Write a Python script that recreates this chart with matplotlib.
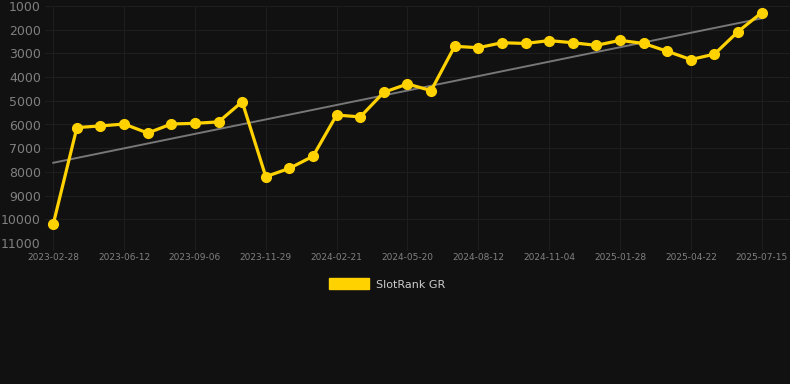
import matplotlib
matplotlib.use('Agg')
import matplotlib.pyplot as plt
import matplotlib.patches as mpatches
import numpy as np

# rank values, one point every ~4 weeks
ranks = [10200, 6130, 6060, 5980, 6360, 5980, 5950, 5890, 5040, 8200,
         7850, 7340, 5600, 5680, 4640, 4290, 4570, 2700, 2760, 2550,
         2580, 2460, 2550, 2660, 2450, 2580, 2910, 3260, 3030, 2080, 1280]
tick_labels = ['2023-02-28', '2023-06-12', '2023-09-06', '2023-11-29',
               '2024-02-21', '2024-05-20', '2024-08-12', '2024-11-04',
               '2025-01-28', '2025-04-22', '2025-07-15']
series_name = 'SlotRank GR'

bg = '#111111'
gold = '#FFD200'

fig = plt.figure(figsize=(7.9, 3.84), dpi=100, facecolor=bg)
ax = fig.add_axes([45 / 790, 1 - 243 / 384, 745 / 790, 237 / 384], facecolor=bg)

x = np.arange(len(ranks))

# trend line
k, b = np.polyfit(x, ranks, 1)
ax.plot(x, k * x + b, color='#777777', linewidth=1.4, zorder=2)

ax.plot(x, ranks, color=gold, linewidth=2.3, marker='o', markersize=7,
        zorder=3)

ax.set_xlim(-0.35, 31.2)
ax.set_ylim(11000, 1000)
ax.set_yticks(np.arange(1000, 11001, 1000))
ax.set_xticks(x[::3])
ax.set_xticklabels(tick_labels)

ax.grid(True, color='#1e1e1e', linewidth=0.8)
ax.set_axisbelow(True)
for s in ax.spines.values():
    s.set_visible(False)
ax.tick_params(axis='y', length=0, pad=3, labelsize=9, labelcolor='#808080')
ax.tick_params(axis='x', length=5, color='#1e1e1e', pad=2, labelsize=6.5,
               labelcolor='#808080')

handle = mpatches.Patch(color=gold, label=series_name)
leg = fig.legend(handles=[handle], loc='center', bbox_to_anchor=(0.49, 1 - 284 / 384),
                 frameon=False, fontsize=8, handlelength=3.6, handleheight=1.1,
                 handletextpad=0.6)
for t in leg.get_texts():
    t.set_color('#cccccc')

fig.savefig('out.png', dpi=100, facecolor=bg)
